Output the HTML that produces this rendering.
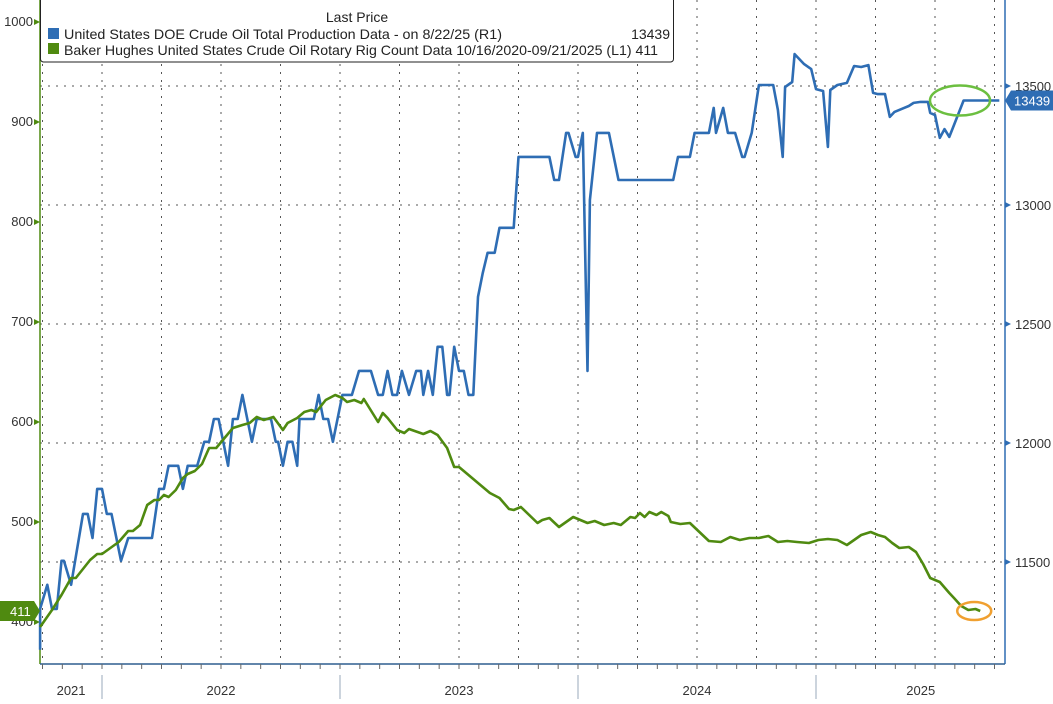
<!DOCTYPE html>
<html><head><meta charset="utf-8"><style>
html,body{margin:0;padding:0;background:#fff;}
svg text{font-family:"Liberation Sans",sans-serif;}
</style></head><body>
<svg id="chart" width="1053" height="699" viewBox="0 0 1053 699" xmlns="http://www.w3.org/2000/svg">
<g id="grid"></g>
<g id="axes"></g>
<g id="series"></g>
<g id="ann"></g>
<g id="legend">
  <rect x="40.5" y="-4" width="633" height="66" rx="3" fill="#fff" stroke="#222" stroke-width="1"/>
  <text x="357" y="22" font-size="14" text-anchor="middle" fill="#222">Last Price</text>
  <rect x="48" y="28" width="11" height="11" fill="#2e6db4"/>
  <text x="64" y="39" font-size="14" fill="#222" textLength="438" lengthAdjust="spacingAndGlyphs">United States DOE Crude Oil Total Production Data -  on 8/22/25  (R1)</text>
  <text x="670" y="39" font-size="14" fill="#222" text-anchor="end">13439</text>
  <rect x="48" y="43" width="11" height="11" fill="#4f8a10"/>
  <text x="64" y="55" font-size="14" fill="#222" textLength="594" lengthAdjust="spacingAndGlyphs">Baker Hughes United States Crude Oil Rotary Rig Count Data 10/16/2020-09/21/2025    (L1) 411</text>
</g>
</svg>
<script>
const prodDates=[2021.74,2021.74,2021.77,2021.79,2021.81,2021.83,2021.84,2021.87,2021.92,2021.94,2021.96,2021.98,2022.00,2022.02,2022.04,2022.08,2022.11,2022.21,2022.24,2022.26,2022.28,2022.32,2022.34,2022.36,2022.40,2022.43,2022.45,2022.47,2022.49,2022.53,2022.55,2022.57,2022.59,2022.63,2022.65,2022.71,2022.73,2022.74,2022.76,2022.78,2022.80,2022.82,2022.83,2022.89,2022.91,2022.93,2022.95,2022.97,2023.01,2023.05,2023.08,2023.13,2023.16,2023.18,2023.20,2023.22,2023.24,2023.26,2023.29,2023.32,2023.34,2023.35,2023.37,2023.39,2023.41,2023.43,2023.45,2023.46,2023.48,2023.50,2023.52,2023.54,2023.56,2023.58,2023.60,2023.62,2023.65,2023.67,2023.73,2023.75,2023.88,2023.90,2023.92,2023.95,2023.96,2023.99,2024.00,2024.02,2024.04,2024.05,2024.08,2024.13,2024.17,2024.40,2024.42,2024.47,2024.49,2024.55,2024.57,2024.58,2024.61,2024.63,2024.66,2024.69,2024.70,2024.73,2024.76,2024.82,2024.84,2024.86,2024.87,2024.90,2024.91,2024.95,2024.98,2025.00,2025.03,2025.05,2025.06,2025.09,2025.13,2025.16,2025.19,2025.22,2025.24,2025.26,2025.29,2025.31,2025.33,2025.37,2025.39,2025.41,2025.44,2025.47,2025.48,2025.50,2025.52,2025.54,2025.56,2025.58,2025.62,2025.77];
const prodValues=[11131,11303,11404,11303,11303,11505,11505,11404,11702,11702,11601,11807,11807,11702,11702,11505,11601,11601,11807,11807,11904,11904,11807,11904,11904,12005,12005,12101,12101,11904,12101,12101,12202,12005,12101,12101,12005,12005,11904,12005,12005,11904,12101,12101,12202,12101,12101,12005,12202,12202,12303,12303,12202,12202,12303,12202,12202,12303,12202,12303,12303,12202,12303,12202,12404,12404,12202,12202,12404,12303,12303,12202,12202,12614,12715,12799,12799,12904,12904,13202,13202,13105,13105,13303,13303,13202,13202,13303,12303,13021,13303,13303,13105,13105,13202,13202,13303,13303,13408,13303,13408,13303,13303,13202,13202,13303,13504,13504,13399,13202,13496,13517,13634,13592,13571,13487,13479,13244,13483,13504,13513,13584,13580,13588,13471,13466,13466,13370,13391,13408,13416,13429,13433,13433,13387,13378,13282,13319,13286,13336,13439,13439];
const rigDates=[2021.74,2021.79,2021.83,2021.87,2021.89,2021.95,2021.98,2022.00,2022.07,2022.11,2022.13,2022.16,2022.19,2022.22,2022.24,2022.26,2022.28,2022.31,2022.34,2022.36,2022.39,2022.42,2022.45,2022.48,2022.55,2022.59,2022.62,2022.65,2022.68,2022.72,2022.76,2022.78,2022.82,2022.85,2022.88,2022.90,2022.94,2022.98,2023.01,2023.03,2023.06,2023.09,2023.10,2023.16,2023.18,2023.20,2023.24,2023.27,2023.29,2023.35,2023.38,2023.41,2023.45,2023.48,2023.50,2023.55,2023.58,2023.63,2023.67,2023.71,2023.73,2023.76,2023.83,2023.85,2023.88,2023.92,2023.95,2023.98,2024.04,2024.07,2024.11,2024.15,2024.18,2024.22,2024.24,2024.26,2024.28,2024.30,2024.33,2024.35,2024.38,2024.39,2024.43,2024.47,2024.51,2024.55,2024.60,2024.64,2024.68,2024.72,2024.76,2024.80,2024.84,2024.88,2024.92,2024.97,2025.01,2025.05,2025.09,2025.13,2025.16,2025.19,2025.23,2025.26,2025.29,2025.32,2025.35,2025.39,2025.42,2025.45,2025.48,2025.52,2025.56,2025.58,2025.61,2025.64,2025.67,2025.69];
const rigValues=[395,412,427,444,444,462,468,468,480,491,491,497,517,522,522,527,525,532,544,548,551,558,574,574,594,597,599,605,602,605,592,599,604,610,612,610,622,627,624,620,622,619,623,600,609,604,592,589,593,588,591,587,574,555,555,545,539,529,524,513,512,515,499,502,504,495,500,505,499,501,497,499,497,505,504,509,505,510,507,510,506,500,498,499,490,481,480,485,482,484,484,486,480,481,480,479,482,483,482,477,482,487,490,487,485,479,474,475,470,458,444,440,429,424,416,412,413,411];
const leftTicks=[1000,900,800,700,600,500,400];
const rightTicks=[13500,13000,12500,12000,11500];
const yearLabels=["2021","2022","2023","2024","2025"];
const yearLabelDates=[2021.87,2022.5,2023.5,2024.5,2025.44];
const yearBounds=[2022,2023,2024,2025];

const NS="http://www.w3.org/2000/svg";
const PL=40,PR=1005,PT=0,PB=664;
function xS(t){return 102+(t-2022)*238;}
function yL(v){return 22+(1000-v);}
function yR(v){return 86+(13500-v)*0.238;}
function mk(tag,attrs,parent){const e=document.createElementNS(NS,tag);for(const k in attrs)e.setAttribute(k,attrs[k]);parent.appendChild(e);return e;}
const grid=document.getElementById('grid'),axes=document.getElementById('axes'),series=document.getElementById('series'),ann=document.getElementById('ann');

rightTicks.forEach(v=>{
  const l=mk('line',{x1:PL,x2:PR,y1:yR(v),y2:yR(v),stroke:'#555','stroke-width':1,'stroke-dasharray':'2,6'},grid);
  
  
});
for(let q=2021.75;q<2025.95;q+=0.25){
  const x=xS(q); if(x<PL+2||x>PR-2)continue;
  const l=mk('line',{x1:x,x2:x,y1:PT,y2:PB,stroke:'#555','stroke-width':1,'stroke-dasharray':'2,6'},grid);
  
  
}
let a=mk('line',{x1:PL,x2:PL,y1:0,y2:PB,stroke:'#4f8a10','stroke-width':1.5},axes);


a=mk('line',{x1:PR,x2:PR,y1:0,y2:PB,stroke:'#2e6db4','stroke-width':1.5},axes);


a=mk('line',{x1:PL,x2:PR,y1:PB,y2:PB,stroke:'#2e5f8f','stroke-width':1.5},axes);


leftTicks.forEach(v=>{
  const t=mk('text',{x:33,y:yL(v)+4,'font-size':13,'text-anchor':'end',fill:'#333'},axes);
  t.textContent=v;
  
  
  mk('path',{d:`M34 ${yL(v)-3} L40 ${yL(v)} L34 ${yL(v)+3}Z`,fill:'#4f8a10'},axes);
});
rightTicks.forEach(v=>{
  const t=mk('text',{x:1015,y:yR(v)+5,'font-size':13,fill:'#333'},axes);
  t.textContent=v;
  
  
  mk('path',{d:`M1005 ${yR(v)-3} L1011 ${yR(v)} L1005 ${yR(v)+3}Z`,fill:'#2e6db4'},axes);
});
for(let m=2021.75;m<2025.95;m+=1/12){
  const x=xS(m); if(x<PL||x>PR)continue;
  mk('line',{x1:x,x2:x,y1:PB,y2:PB+5,stroke:'#666','stroke-width':1},axes);
}
yearBounds.forEach(y=>{
  const l=mk('line',{x1:xS(y),x2:xS(y),y1:675,y2:699,stroke:'#9ab','stroke-width':1},axes);
  
  
});
yearLabels.forEach((s,i)=>{
  const t=mk('text',{x:xS(yearLabelDates[i]),y:695,'font-size':13,'text-anchor':'middle',fill:'#333'},axes);
  t.textContent=s;
  
  
});
let d=prodDates.map((t,i)=>(i?'L':'M')+xS(t).toFixed(1)+' '+yR(prodValues[i]).toFixed(1)).join(' ');
let p=mk('path',{d:d,fill:'none',stroke:'#2e6db4','stroke-width':2.6,'stroke-linejoin':'round'},series);


d=rigDates.map((t,i)=>(i?'L':'M')+xS(t).toFixed(1)+' '+yL(rigValues[i]).toFixed(1)).join(' ');
p=mk('path',{d:d,fill:'none',stroke:'#4f8a10','stroke-width':2.6,'stroke-linejoin':'round'},series);


const lastP=prodValues[prodValues.length-1], lastR=rigValues[rigValues.length-1];
let e=mk('ellipse',{cx:960,cy:yR(lastP),rx:30,ry:15,fill:'none',stroke:'#6cbf40','stroke-width':2.5},ann);


e=mk('ellipse',{cx:xS(rigDates[rigDates.length-1])-6,cy:yL(lastR),rx:17,ry:9,fill:'none',stroke:'#f0a030','stroke-width':2.5},ann);


let yb=yR(lastP);
let tg=mk('path',{d:`M1005 ${yb} L1011 ${yb-10} L1053 ${yb-10} L1053 ${yb+10} L1011 ${yb+10}Z`,fill:'#2e6db4'},ann);


let tt=mk('text',{x:1014,y:yb+5,'font-size':13,fill:'#fff'},ann);tt.textContent=lastP;


let yg=yL(lastR);
tg=mk('path',{d:`M0 ${yg-10} L34 ${yg-10} L40 ${yg} L34 ${yg+10} L0 ${yg+10}Z`,fill:'#4f8a10'},ann);


tt=mk('text',{x:10,y:yg+5,'font-size':13,fill:'#fff'},ann);tt.textContent=lastR;


</script>
</body></html>
